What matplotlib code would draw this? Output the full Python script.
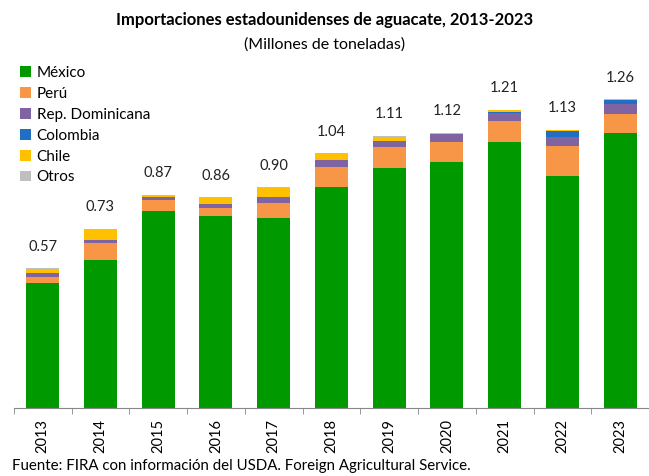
import numpy as np
import matplotlib.pyplot as plt

plt.rcParams['font.family'] = ['Lato', 'DejaVu Sans']

# Datos (millones de toneladas)
anios = ['2013', '2014', '2015', '2016', '2017', '2018', '2019', '2020', '2021', '2022', '2023']
mexico = [0.509, 0.604, 0.804, 0.785, 0.774, 0.903, 0.978, 1.005, 1.084, 0.947, 1.124]
peru = [0.024, 0.068, 0.045, 0.030, 0.064, 0.082, 0.086, 0.079, 0.087, 0.124, 0.076]
rep_dom = [0.016, 0.014, 0.014, 0.018, 0.024, 0.027, 0.027, 0.033, 0.035, 0.037, 0.040]
colombia = [0.0, 0.0, 0.0, 0.0, 0.0, 0.0, 0.0, 0.002, 0.002, 0.022, 0.016]
chile = [0.020, 0.044, 0.007, 0.027, 0.037, 0.027, 0.016, 0.004, 0.007, 0.005, 0.004]
otros = [0.001, 0.0, 0.0, 0.0, 0.001, 0.001, 0.003, 0.001, 0.001, 0.001, 0.0]
totales = [0.57, 0.73, 0.87, 0.86, 0.90, 1.04, 1.11, 1.12, 1.21, 1.13, 1.26]

series = [
    ('México', mexico, '#009A00'),
    ('Perú', peru, '#F79646'),
    ('Rep. Dominicana', rep_dom, '#8064A2'),
    ('Colombia', colombia, '#1F6FC5'),
    ('Chile', chile, '#FFC000'),
    ('Otros', otros, '#BFBFBF'),
]

fig = plt.figure(figsize=(6.49, 4.76), dpi=100)
ax = fig.add_axes([13.8 / 649, 68 / 476, 1 - 13.8 / 649, 348 / 476])

x = np.arange(len(anios))
base = np.zeros(len(anios))
for nombre, vals, color in series:
    ax.bar(x, vals, 0.57, bottom=base, color=color, label=nombre, linewidth=0)
    base += np.array(vals)

for xi, b, t in zip(x, base, totales):
    ax.text(xi, b + 0.06, f'{t:.2f}', ha='center', va='bottom', fontsize=10.5, color='#222222')

ax.set_xlim(-0.5, (649 - 43) / 58.4)
ax.set_ylim(0, 348 / 245)
ax.set_yticks([])
for s in ['top', 'right', 'left']:
    ax.spines[s].set_visible(False)
ax.spines['bottom'].set_color('#888888')
ax.set_xticks(x)
ax.set_xticklabels(anios, rotation=90, fontsize=10.5)
ax.tick_params(axis='x', which='major', length=0, pad=8)
ax.set_xticks(np.arange(-0.5, len(anios), 1), minor=True)
ax.tick_params(axis='x', which='minor', length=4, color='#888888')

fig.text(0.5, 1 - 20 / 476, 'Importaciones estadounidenses de aguacate, 2013-2023',
         ha='center', va='center', fontsize=12, fontweight='bold')
fig.text(0.5, 1 - 45 / 476, '(Millones de toneladas)', ha='center', va='center', fontsize=11.5)

ax.legend(loc='upper left', bbox_to_anchor=(0.0, 1.0), frameon=False, fontsize=11,
          handlelength=0.7, handleheight=0.7, handletextpad=0.4, labelspacing=0.45,
          borderaxespad=0)

fig.text(12 / 649, 1 - 466 / 476, 'Fuente: FIRA con información del USDA. Foreign Agricultural Service.',
         ha='left', va='center', fontsize=10.8)

fig.savefig('out.png', dpi=100)
